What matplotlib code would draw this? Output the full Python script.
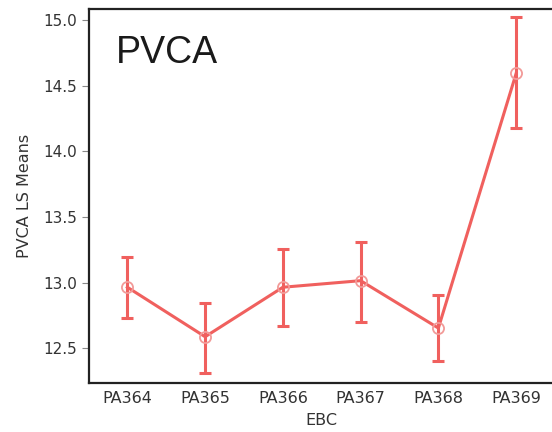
import matplotlib.pyplot as plt

groups = ['PA364', 'PA365', 'PA366', 'PA367', 'PA368', 'PA369']
means = [12.965, 12.588, 12.965, 13.015, 12.654, 14.593]
upper = [13.199, 12.848, 13.26, 13.31, 12.904, 15.02]
lower = [12.727, 12.315, 12.673, 12.70, 12.40, 14.177]

err_lo = [m - l for m, l in zip(means, lower)]
err_hi = [u - m for u, m in zip(upper, means)]
x = list(range(len(groups)))

fig = plt.figure(figsize=(5.52, 4.32), dpi=100)
ax = fig.add_axes([88.5/552, 1 - 382.7/432, (555 - 88.5)/552, (382.7 - 9)/432])

red = '#f0605e'
ax.errorbar(x, means, yerr=[err_lo, err_hi], color=red, lw=2.2,
            elinewidth=2.2, capsize=4, capthick=2.2, zorder=2)
ax.plot(x, means, 'o', ms=8, mfc='none', mec='#f29a98', mew=1.3, zorder=3)

ax.set_xlim(-0.5, 5.5)
ax.set_ylim(12.238, 15.084)
ax.set_xticks(x)
ax.set_xticklabels(groups)
ax.set_yticks([12.5, 13.0, 13.5, 14.0, 14.5, 15.0])
ax.set_yticklabels(['12.5', '13.0', '13.5', '14.0', '14.5', '15.0'])
ax.tick_params(axis='y', length=5, width=0.8, color='#888888', labelsize=11, labelcolor='#333333')
ax.tick_params(axis='x', length=0, labelsize=11.5, labelcolor='#333333', pad=6)
for s in ['left', 'bottom', 'top']:
    ax.spines[s].set_linewidth(1.6)
    ax.spines[s].set_color('#222222')
ax.spines['right'].set_visible(False)

ax.text(0.058, 0.93, 'PVCA', transform=ax.transAxes, fontsize=27,
        family='Liberation Sans', color='#1a1a1a', va='top')
ax.set_ylabel('PVCA LS Means', fontsize=11.5, color='#333333', labelpad=8)
ax.set_xlabel('EBC', fontsize=11.5, color='#333333', labelpad=5)

fig.savefig('out.png', dpi=100)
